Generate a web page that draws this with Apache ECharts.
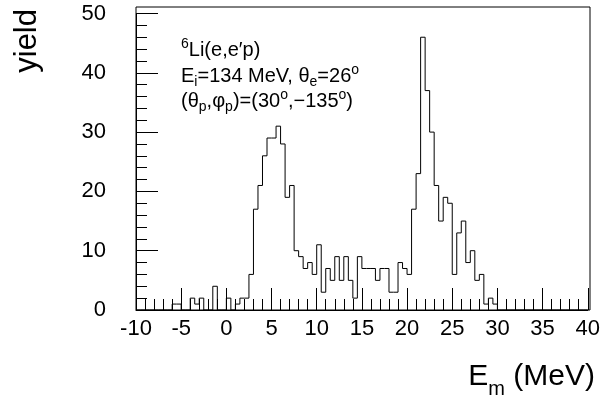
<!DOCTYPE html>
<html>
<head>
<meta charset="utf-8">
<script src="https://cdn.jsdelivr.net/npm/echarts@6/dist/echarts.min.js"></script>
<style>
html,body{margin:0;padding:0;background:#fff;}
#c{width:603px;height:403px;}
</style>
</head>
<body>
<div id="c"></div>
<script>
// Histogram: bins of width 0.5 MeV starting at E_m = -10 MeV
const binStart = -10;
const binWidth = 0.5;
const yields = [
  0,0,0,0,0,0,0,0,          // -10 .. -6
  1,1,0,0,2,1,2,0,          // -6 .. -2
  0,4,0,0,                  // -2 .. 0
  2,0,1,2,2,6,17,21,        // 0 .. 4
  26,29,29,31,28,19,21,10,  // 4 .. 8
  9,7,8,6,11,3,7,5,         // 8 .. 12
  9,5,9,5,2,9,7,7,          // 12 .. 16
  7,5,7,7,3,3,8,7,          // 16 .. 20
  6,17,23,46,37,30,21,15,   // 20 .. 24
  19,18,6,13,15,8,10,5,     // 24 .. 28
  6,1,2,1,                  // 28 .. 30
  0,0,0,0,0,0,0,0,0,0,0,0,0,0,0,0,0,0,0,0 // 30 .. 40
];
const xTicks = [-10,-5,0,5,10,15,20,25,30,35,40];
const yTicks = [0,10,20,30,40,50];

const pts = [];
for (let i = 0; i < yields.length; i++) {
  pts.push([binStart + i * binWidth, yields[i]]);
}
pts.push([binStart + yields.length * binWidth, yields[yields.length - 1]]);

const chart = echarts.init(document.getElementById('c'), null, {renderer: 'canvas'});
const L = 136, R = 590, T0 = 7, B = 310, T50 = 13.5;
const font = 'Liberation Sans, Arial, Helvetica, sans-serif';

chart.setOption({
  animation: false,
  backgroundColor: '#fff',
  grid: {left: L, top: T50, width: R - L, height: B - T50, show: false},
  xAxis: {
    type: 'value', min: xTicks[0], max: xTicks[xTicks.length-1], interval: 5,
    axisLine: {show: true, onZero: false, lineStyle: {color: '#000', width: 1}},
    axisTick: {show: true, inside: true, length: 22, lineStyle: {color: '#000'}},
    minorTick: {show: true, splitNumber: 5, length: 11, lineStyle: {color: '#000'}},
    splitLine: {show: false},
    axisLabel: {color: '#000', fontSize: 22, fontFamily: font, margin: 8}
  },
  yAxis: {
    type: 'value', min: yTicks[0], max: yTicks[yTicks.length-1], interval: 10,
    axisLine: {show: true, onZero: false, lineStyle: {color: '#000', width: 1}},
    axisTick: {show: true, inside: true, length: 22, lineStyle: {color: '#000'}},
    minorTick: {show: true, splitNumber: 5, length: 11, lineStyle: {color: '#000'}},
    splitLine: {show: false},
    axisLabel: {color: '#000', fontSize: 22, fontFamily: font, margin: 30}
  },
  series: [{
    type: 'line', step: 'end', symbol: 'none', data: pts,
    lineStyle: {color: '#000', width: 1}
  }],
  graphic: [
    {type: 'rect', shape: {x: L, y: T0, width: R - L, height: B - T0},
     style: {fill: 'none', stroke: '#000', lineWidth: 1}, silent: true, z: 10},
    {type: 'text', left: 12, top: 9, rotation: Math.PI/2,
     style: {text: 'yield', font: '31px ' + font, fill: '#000'}},
    {type: 'text', right: 8, top: 362,
     style: {text: 'E{s|m} (MeV)', font: '30px ' + font, fill: '#000',
       rich: {s: {fontSize: 20, fontFamily: font, verticalAlign: 'bottom', lineHeight: 44}}}},
    {type: 'text', left: 181, top: 37,
     style: {text: '{p|6}Li(e,e′p)', font: '20px ' + font, fill: '#000', lineHeight: 26,
       rich: {p: {fontSize: 14, fontFamily: font, verticalAlign: 'top', lineHeight: 26}}}},
    {type: 'text', left: 181, top: 63,
     style: {text: 'E{b|i}=134 MeV, θ{b|e}=26{p|o}', font: '20px ' + font, fill: '#000', lineHeight: 26,
       rich: {p: {fontSize: 14, fontFamily: font, verticalAlign: 'top', lineHeight: 26},
              b: {fontSize: 14, fontFamily: font, verticalAlign: 'bottom', lineHeight: 26}}}},
    {type: 'text', left: 181, top: 88,
     style: {text: '(θ{b|p},φ{b|p})=(30{p|o},−135{p|o})', font: '20px ' + font, fill: '#000', lineHeight: 26,
       rich: {p: {fontSize: 14, fontFamily: font, verticalAlign: 'top', lineHeight: 26},
              b: {fontSize: 14, fontFamily: font, verticalAlign: 'bottom', lineHeight: 26}}}}
  ]
});
</script>
</body>
</html>
